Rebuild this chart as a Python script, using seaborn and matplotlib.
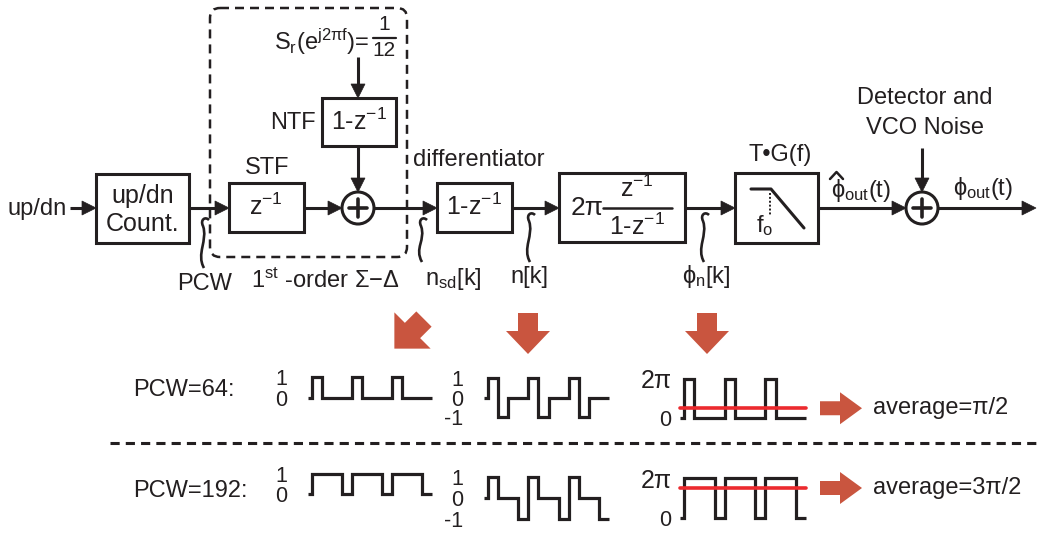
import numpy as np
import matplotlib
matplotlib.use("Agg")
import matplotlib.pyplot as plt
import seaborn as sns
import pandas as pd
from matplotlib.patches import Rectangle, Circle, Polygon, FancyBboxPatch, PathPatch
from matplotlib.path import Path

# ------------------------------------------------------------------ data
sample_k = [-0.4, 0, 1, 2, 3, 4, 5, 6, 7, 8, 9, 10, 11]   # step start (sample index)
sample_end = 12
nsd_pcw64 = [0, 1, 0, 0, 0, 1, 0, 0, 0, 1, 0, 0, 0]
n_pcw64 = [0, 1, -1, 0, 0, 1, -1, 0, 0, 1, -1, 0, 0]
phi_pcw64 = [0, 2 * np.pi, 0, 0, 0, 2 * np.pi, 0, 0, 0, 2 * np.pi, 0, 0, 0]
nsd_pcw192 = [0, 1, 1, 1, 0, 1, 1, 1, 0, 1, 1, 1, 0]
n_pcw192 = [0, 1, 0, 0, -1, 1, 0, 0, -1, 1, 0, 0, -1]
phi_pcw192 = [0, 2 * np.pi, 2 * np.pi, 2 * np.pi, 0, 2 * np.pi, 2 * np.pi, 2 * np.pi, 0,
              2 * np.pi, 2 * np.pi, 2 * np.pi, 0]
avg_pcw = [np.pi / 2, 3 * np.pi / 2]
pcw_labels = ["PCW=64:", "PCW=192:"]
avg_labels = ["average=π/2", "average=3π/2"]
nsd_ticks, nsd_ticklabels = [1, 0], ["1", "0"]
n_ticks, n_ticklabels = [1, 0, -1], ["1", "0", "-1"]
phi_ticks, phi_ticklabels = [2 * np.pi, 0], ["2π", "0"]

# ------------------------------------------------------------------ style
sns.set_theme(style="white")
plt.rcParams["font.family"] = ["Liberation Sans", "DejaVu Sans"]
plt.rcParams["mathtext.fontset"] = "custom"
plt.rcParams["mathtext.rm"] = "Liberation Sans"
plt.rcParams["mathtext.it"] = "Liberation Sans"
plt.rcParams["mathtext.sf"] = "Liberation Sans"
plt.rcParams["mathtext.bf"] = "Liberation Sans:bold"

INK = "#231f20"
RED_ARROW = "#c9553f"
RED_LINE = "#ec2a2e"
LW = 2.2
W, H = 1037, 534

fig = plt.figure(figsize=(W / 100, H / 100), dpi=100)
fig.patch.set_facecolor("white")
ax = fig.add_axes([0, 0, 1, 1])
ax.set_xlim(0, W)
ax.set_ylim(H, 0)
ax.axis("off")


def txt(x, y, s, fs=17, ha="center", va="center", **kw):
    ax.text(x, y, s, fontsize=fs, ha=ha, va=va, color=INK, **kw)


def box(x0, y0, x1, y1):
    ax.add_patch(Rectangle((x0, y0), x1 - x0, y1 - y0, fill=False, ec=INK, lw=LW))


def arrow(x0, y0, x1, y1, hl=14, hw=7):
    d = np.array([x1 - x0, y1 - y0], float)
    L = np.hypot(*d)
    u = d / L
    p = np.array([-u[1], u[0]])
    base = np.array([x1, y1]) - u * hl
    ax.plot([x0, base[0] + u[0] * 2], [y0, base[1] + u[1] * 2], color=INK, lw=LW,
            solid_capstyle="butt")
    tri = [(x1, y1), tuple(base + p * hw), tuple(base - p * hw)]
    ax.add_patch(Polygon(tri, closed=True, fc=INK, ec=INK, lw=0.5))


def summer(cx, cy, r=16):
    ax.add_patch(Circle((cx, cy), r, fill=False, ec=INK, lw=LW))
    ax.plot([cx - 9, cx + 9], [cy, cy], color=INK, lw=2.6)
    ax.plot([cx, cx], [cy - 9, cy + 9], color=INK, lw=2.6)


def squiggle(x, ytop, ybot):
    verts = [(x + 1, ybot),
             (x - 7, ybot - 14), (x + 5, ytop + 22), (x, ytop + 8),
             (x - 3, ytop + 2), (x + 2, ytop - 2), (x + 6, ytop + 2)]
    codes = [Path.MOVETO] + [Path.CURVE4] * 6
    ax.add_patch(PathPatch(Path(verts, codes), fill=False, ec=INK, lw=1.9))


LINE_Y = 208

# ------------------------------------------------------------------ top block diagram
ax.add_patch(FancyBboxPatch((210, 8), 197, 249, boxstyle="round,pad=0,rounding_size=10",
                            fill=False, ec=INK, lw=1.8, ls=(0, (3.6, 2.4))))

txt(67, LINE_Y + 1, "up/dn", ha="right")
arrow(70, LINE_Y, 96, LINE_Y)
box(96, 174, 189, 243)
txt(143, 196, "up/dn", fs=18)
txt(143, 224, "Count.", fs=18)
arrow(189, LINE_Y, 229, LINE_Y)
squiggle(203, 218, 268)
txt(205, 284, "PCW")

txt(267, 168, "STF")
box(229, 183, 304, 232)
txt(266, 207, "z$^{-1}$", fs=18)
arrow(304, LINE_Y, 342, LINE_Y)
summer(358, LINE_Y)

txt(369, 42, "S$_{r}$(e$^{j2πf}$)=", ha="right")
txt(384, 25, "1", fs=15)
ax.plot([373, 396], [37.5, 37.5], color=INK, lw=1.6)
txt(384, 50, "12", fs=15)
arrow(358, 57, 358, 98)
txt(316, 123, "NTF", ha="right")
box(322, 98, 396, 146)
txt(359, 122, "1-z$^{-1}$", fs=18)
arrow(358, 146, 358, 192)
txt(325, 281, "1$^{st}$ -order Σ−Δ")

arrow(374, LINE_Y, 437, LINE_Y)
squiggle(421, 218, 262)
txt(453, 279, "n$_{sd}$[k]")

txt(479, 160, "differentiator")
box(437, 183, 512, 232)
txt(474, 207, "1-z$^{-1}$", fs=18)
arrow(512, LINE_Y, 559, LINE_Y)
squiggle(529, 213, 262)
txt(529, 277, "n[k]")

box(559, 173, 685, 242)
txt(587, 208, "2π", fs=19)
ax.plot([603, 672], [208, 208], color=INK, lw=1.8)
txt(637, 189, "z$^{-1}$", fs=18)
txt(637, 227, "1-z$^{-1}$", fs=18)
arrow(685, LINE_Y, 735, LINE_Y)
squiggle(703, 213, 262)
txt(706, 277, "ϕ$_{n}$[k]")

txt(780, 155, "T•G(f)")
box(735, 173, 818, 243)
ax.plot([751, 771, 804], [189, 189, 228], color=INK, lw=2.2)
ax.plot([770, 770], [193, 215], color=INK, lw=1.4, ls=(0, (1, 1)))
txt(765, 226, "f$_{o}$", fs=17)
arrow(818, LINE_Y, 906, LINE_Y)
txt(861, 191, "ϕ$_{out}$(t)")
ax.plot([830, 836.5, 843], [179, 172, 179], color=INK, lw=1.8)

summer(922, LINE_Y)
txt(925, 98, "Detector and")
txt(925, 128, "VCO Noise")
arrow(922, 148, 922, 192)
arrow(938, LINE_Y, 1036, LINE_Y)
txt(983, 188, "ϕ$_{out}$(t)")

# ------------------------------------------------------------------ red indicator arrows
def down_arrow(cx, y0=313, y1=354):
    pts = [(cx - 10, y0), (cx + 10, y0), (cx + 10, y0 + 18), (cx + 22, y0 + 18),
           (cx, y1), (cx - 22, y0 + 18), (cx - 10, y0 + 18)]
    ax.add_patch(Polygon(pts, closed=True, fc=RED_ARROW, ec="none"))


def diag_arrow(cx, cy, s=1.35):
    local = np.array([(-8, -12), (8, -12), (8, 0), (19, 0), (0, 19), (-19, 0), (-8, 0)], float) * s
    c = np.cos(np.pi / 4)
    R = np.array([[c, -c], [c, c]])
    pts = local @ R.T + np.array([cx, cy])
    ax.add_patch(Polygon(pts, closed=True, fc=RED_ARROW, ec="none"))


def right_arrow(x0, cy):
    pts = [(x0, cy - 7), (x0 + 20, cy - 7), (x0 + 20, cy - 16), (x0 + 42, cy),
           (x0 + 20, cy + 16), (x0 + 20, cy + 7), (x0, cy + 7)]
    ax.add_patch(Polygon(pts, closed=True, fc=RED_ARROW, ec="none"))


diag_arrow(412.5, 330.5)
down_arrow(528)
down_arrow(707)

ax.plot([110, 1037], [443, 443], color=INK, lw=2.2, ls=(0, (3, 2)))

# ------------------------------------------------------------------ waveforms
def wave_axes(x0, x1, ytop, ybot):
    return fig.add_axes([x0 / W, 1 - ybot / H, (x1 - x0) / W, (ybot - ytop) / H])


def draw_wave(a, vals, lo, hi, ticks, ticklabels, pad, fs_list, avg=None, nudges=None):
    df = pd.DataFrame({"k": list(sample_k) + [sample_end], "v": list(vals) + [vals[-1]]})
    sns.lineplot(data=df, x="k", y="v", ax=a, drawstyle="steps-post", estimator=None,
                 sort=False, color=INK, lw=2.3, clip_on=False,
                 solid_joinstyle="miter", solid_capstyle="butt")
    if avg is not None:
        a.axhline(avg, color=RED_LINE, lw=2.6, clip_on=False, zorder=5)
    a.set_xlim(sample_k[0], sample_end)
    a.set_ylim(lo, hi)
    a.set_xticks([])
    a.set_yticks(ticks)
    a.set_yticklabels(ticklabels)
    labs = a.get_yticklabels()
    for j, (lab, f) in enumerate(zip(labs, fs_list)):
        lab.set_fontsize(f)
        lab.set_color(INK)
        if nudges is not None:
            lab.set_transform(lab.get_transform() +
                              matplotlib.transforms.ScaledTranslation(0, -nudges[j] / 100,
                                                                      fig.dpi_scale_trans))
    a.tick_params(axis="y", length=0, pad=pad)
    a.set_xlabel("")
    a.set_ylabel("")
    a.patch.set_alpha(0)
    for s in a.spines.values():
        s.set_visible(False)


rows = [
    dict(nsd=nsd_pcw64, n=n_pcw64, phi=phi_pcw64, avg=avg_pcw[0],
         y1=(377, 398), y2=(378, 417), y3=(379, 418), ylab=390),
    dict(nsd=nsd_pcw192, n=n_pcw192, phi=phi_pcw192, avg=avg_pcw[1],
         y1=(474, 494), y2=(477, 519), y3=(478, 518), ylab=491),
]
for i, r in enumerate(rows):
    a1 = wave_axes(308, 432, *r["y1"])
    draw_wave(a1, r["nsd"], 0, 1, nsd_ticks, nsd_ticklabels, 15, [15.5, 15.5],
              nudges=[0, 4])
    a2 = wave_axes(484, 609, *r["y2"])
    draw_wave(a2, r["n"], -1, 1, n_ticks, n_ticklabels, 15, [15.5, 15.5, 15.5],
              nudges=[0, 3, 8])
    a3 = wave_axes(680, 806, *r["y3"])
    draw_wave(a3, r["phi"], 0, 2 * np.pi, phi_ticks, phi_ticklabels, 6, [18, 15.5],
              avg=r["avg"], nudges=[-2, -1])
    cy = a3.transData.transform((0, r["avg"]))[1]
    cy_px = H - cy
    right_arrow(820, cy_px)
    txt(873, cy_px, avg_labels[i], ha="left")
    txt(133, r["ylab"], pcw_labels[i], ha="left")

fig.savefig("out.png", dpi=100, facecolor="white")
